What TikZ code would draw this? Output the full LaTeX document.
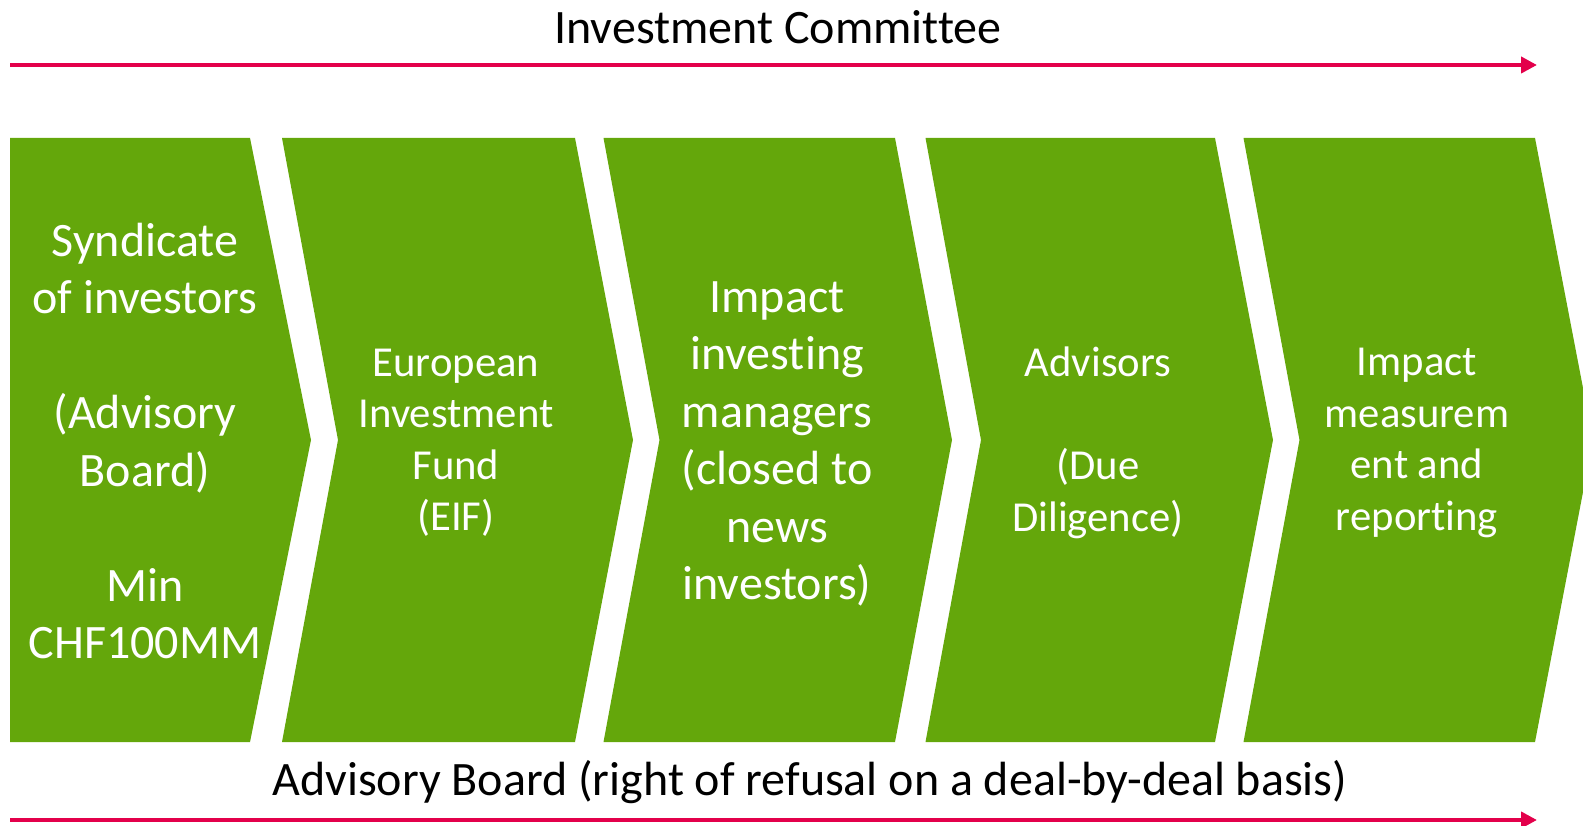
\documentclass[tikz,border=0pt]{standalone}
\usepackage{fontspec}
\setmainfont{Carlito}[RawFeature={-liga,-calt,-clig,-dlig}]
\usetikzlibrary{arrows.meta}
\definecolor{chevgreen}{RGB}{100,167,11}
\definecolor{arrred}{RGB}{227,0,75}
\tikzset{
  chev/.style={fill=chevgreen,draw=none},
  bigtxt/.style={text=white,align=center,inner sep=0pt,font=\fontsize{48}{57.5}\selectfont},
  midtxt/.style={text=white,align=center,inner sep=0pt,font=\fontsize{42.7}{51.5}\selectfont},
  title/.style={text=black,inner sep=0pt,font=\fontsize{48}{57.5}\selectfont},
  redarrow/.style={draw=arrred,line width=4.6pt,-{Triangle[length=16pt,width=16pt]}}
}
\begin{document}
\begin{tikzpicture}[x=1pt,y=-1pt]
\useasboundingbox (0,0) rectangle (1583,826);
\clip (0,0) rectangle (1583,826);
% chevrons
\path[chev] (10,138) -- (250,138) -- (311,440) -- (250,742) -- (10,742) -- cycle;
\path[chev] (282,138) -- (575,138) -- (633,440) -- (575,742) -- (282,742) -- (338,440) -- cycle;
\path[chev] (603.5,138) -- (895,138) -- (952,440) -- (895,742) -- (603.5,742) -- (659.5,440) -- cycle;
\path[chev] (925.5,138) -- (1215,138) -- (1273,440) -- (1215,742) -- (925.5,742) -- (981,440) -- cycle;
\path[chev] (1243.5,138) -- (1535,138) -- (1593,440) -- (1535,742) -- (1243.5,742) -- (1299.5,440) -- cycle;
% texts
\node[bigtxt] (s1) at (145,441) {Syndicate\\of investors\\\mbox{}\\(Advisory\\Board)\\\mbox{}\\Min\\CHF100MM};
\node[midtxt] (s2) at (456,443) {European\\Investment\\Fund\\(EIF)};
\node[bigtxt] (s3) at (777,444) {Impact\\investing\\managers\\(closed to\\news\\investors)};
\node[midtxt] (s4) at (1098,443) {Advisors\\\mbox{}\\(Due\\Diligence)};
\node[midtxt] (s5) at (1417,443) {Impact\\measurem\\ent and\\reporting};
% titles
\node[title] (ic) at (778,27) {Investment Committee};
\node[title] (ab) at (810,782) {Advisory Board (right of refusal on a deal-by-deal basis)};
% arrows
\coordinate (ta) at (10,65);
\coordinate (tb) at (1537,65);
\coordinate (ba) at (10,820);
\coordinate (bb) at (1537,820);
\draw[redarrow] (ta) -- (tb);
\draw[redarrow] (ba) -- (bb);
\end{tikzpicture}
\end{document}
